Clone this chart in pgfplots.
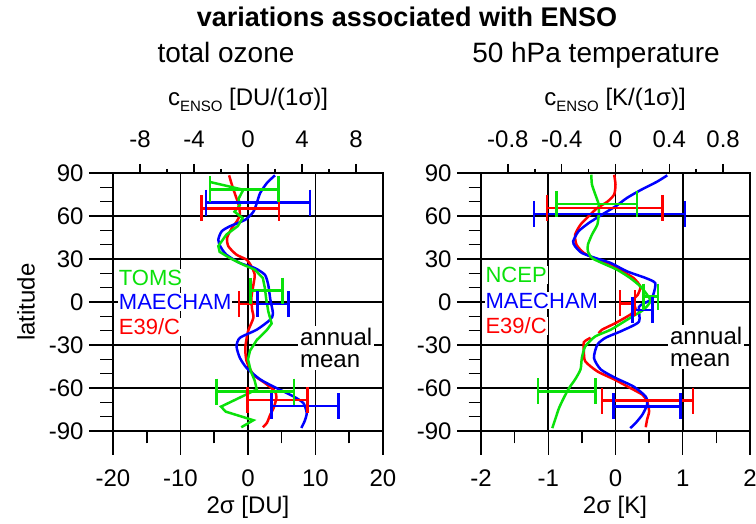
\documentclass[border=0pt]{standalone}
\usepackage{pgfplots}
\pgfplotsset{compat=1.18}
\usepackage{fontspec}
\setmainfont{Liberation Sans}
\definecolor{cg}{RGB}{10,225,10}
\definecolor{cb}{RGB}{0,0,255}
\definecolor{cr}{RGB}{255,0,0}
\newcommand{\fs}[1]{\fontsize{#1}{#1}\selectfont}
\pgfplotsset{
  mainax/.style={
    scale only axis, anchor=south west, height=258pt,
    ymin=-90, ymax=90,
    ytick={-90,-60,-30,0,30,60,90},
    yticklabels={-90,-60,-30,0,30,60,90},
    minor y tick num=2, minor x tick num=1,
    xtick pos=left, ytick pos=left,
    tick align=outside, major tick length=24pt, minor tick length=12.5pt,
    every tick/.style={black, line width=1.5pt},
    every minor tick/.style={black, line width=1.5pt},
    axis line style={line width=1.5pt},
    grid=major, grid style={black, line width=1.6pt}, major grid style={black, line width=1.6pt},
    tick label style={font=\fs{24}},
    xticklabel shift=11pt, yticklabel shift=2pt,
    clip=false,
  },
  topax/.style={
    scale only axis, anchor=south west, height=258pt,
    axis x line*=top, axis y line=none, x axis line style={-},
    ymin=0, ymax=1, minor x tick num=1,
    tick align=outside, major tick length=9pt, minor tick length=4pt,
    every tick/.style={black, line width=1.5pt},
    every minor tick/.style={black, line width=1.5pt},
    axis line style={line width=1.5pt},
    tick label style={font=\fs{24}},
    xticklabel shift=13pt,
  },
  cur/.style={line width=2.5pt, mark=none, smooth, tension=0.4},
  eb/.style={line width=2.5pt, mark=|, mark size=13pt, mark options={solid}},
}
\begin{document}
\begin{tikzpicture}
\useasboundingbox (0pt,0pt) rectangle (756pt,524pt);
% ---------------- left panel ----------------
\begin{axis}[mainax, at={(113pt,93pt)}, width=270pt,
  xmin=-20, xmax=20, xtick={-20,-10,0,10,20}, xticklabels={-20,-10,0,10,20}]
\addplot[cr, cur] coordinates {(-2.8,88.4) (-2.4,82) (-1.9,75) (-1.4,68) (-1.2,61) (-1.7,56) (-2.4,51.6) (-3.1,44.7) (-2.9,38.8) (-1.7,33) (-0.2,29.5) (0.5,24.9) (1.0,19) (0.8,12) (0.5,3) (0.6,-5) (0.8,-11) (0,-20.5) (-0.4,-32) (-0.2,-41.4) (0.8,-50.7) (2.5,-56.5) (4.0,-62.3) (4.2,-67) (3.8,-74) (3.3,-78.6) (2.8,-84.4) (2.2,-87.4)};
\addplot[cb, cur] coordinates {(4.0,88.4) (2.8,83) (1.8,76) (1.3,69) (0.8,63) (-0.4,57.4) (-2.7,52.8) (-3.9,49.3) (-4.4,43.5) (-4.1,38.8) (-3.2,33) (-1.2,27.2) (1.0,23.7) (2.5,19) (3.0,12) (3.3,2) (3.7,-8) (3.3,-12.3) (1.3,-19.3) (-1.2,-25) (-1.7,-31) (-1.2,-39) (-0.2,-46) (1.8,-54) (4.2,-60) (6.7,-65.8) (8.2,-70.5) (8.7,-77.4) (8.4,-83) (7.9,-87.9)};
\addplot[cg, line width=2.5pt, mark=none] coordinates {(-5.6,83.7) (-0.7,78.3) (-1.4,72) (-1.2,67.5) (-2.0,63) (-0.8,58.6) (-1.5,53) (-3.2,47) (-4.4,39) (-4.2,35) (-2.7,30.7) (-0.7,26) (1.0,22.6) (2.2,16.7) (2.5,9.8) (2.7,2) (3.0,-6.5) (3.5,-15) (2.8,-19.5) (1.3,-26.5) (0.3,-34) (0,-40) (0.4,-48) (1.0,-55) (1.3,-61) (-4.0,-73) (-3.3,-76.5) (0.8,-82.5) (-1.0,-87.4)};
% error bars: left end, right end
\addplot[cr, eb] coordinates {(-6.9,65.3) (4.6,65.3)};
\addplot[cr, eb] coordinates {(-1.3,-1.4) (1.4,-1.4)};
\addplot[cr, eb] coordinates {(-0.1,-68.4) (8.8,-68.4)};
\addplot[cb, eb] coordinates {(-6.2,69.3) (9.2,69.3)};
\addplot[cb, eb] coordinates {(1.4,-1.4) (6.0,-1.4)};
\addplot[cb, eb] coordinates {(3.5,-72.6) (13.4,-72.6)};
\addplot[cg, eb] coordinates {(-5.6,78.6) (4.5,78.6)};
\addplot[cg, eb] coordinates {(0.4,8.0) (5.1,8.0)};
\addplot[cg, eb] coordinates {(-4.7,-62.6) (6.8,-62.6)};
\node[anchor=west, fill=white, inner sep=1pt, text=cg, font=\fs{22}] at (axis cs:-19.3,16.7) {TOMS};
\node[anchor=west, fill=white, inner sep=1pt, text=cb, font=\fs{22}] at (axis cs:-19.3,0) {MAECHAM};
\node[anchor=west, fill=white, inner sep=1pt, text=cr, font=\fs{22}] at (axis cs:-19.3,-17.4) {E39/C};
\node[anchor=west, fill=white, inner sep=2pt, align=left, font=\fs{24}] at (axis cs:7.4,-32) {annual\\[-2pt]mean};
\end{axis}
\begin{axis}[topax, at={(113pt,93pt)}, width=270pt,
  xmin=-10, xmax=10, xtick={-8,-4,0,4,8}, xticklabels={-8,-4,0,4,8}]
\end{axis}
% ---------------- right panel ----------------
\begin{axis}[mainax, at={(481pt,93pt)}, width=269pt,
  xmin=-2, xmax=2, xtick={-2,-1,0,1,2}, xticklabels={-2,-1,0,1,2}]
\addplot[cr, cur] coordinates {(-0.02,88.8) (0,82) (-0.02,75) (-0.12,70) (-0.27,65.6) (-0.40,59.8) (-0.52,54) (-0.60,47) (-0.58,40) (-0.47,34.2) (-0.27,29.5) (-0.05,26) (0.10,21.4) (0.27,16.7) (0.37,10.7) (0.33,5) (0.25,1) (0.30,-5) (0.22,-8.8) (0,-14.7) (-0.20,-19.3) (-0.25,-21.9)};
\addplot[cr, cur] coordinates {(-0.37,-25) (-0.47,-28) (-0.47,-34.4) (-0.45,-41.4) (-0.27,-48.4) (-0.02,-54) (0.22,-60) (0.40,-64.7) (0.47,-69.3) (0.50,-76.3) (0.47,-82) (0.45,-87.4)};
\addplot[cb, cur] coordinates {(0.77,88.4) (0.62,84) (0.37,78) (0.17,72.6) (0,66.7) (-0.20,61) (-0.40,55) (-0.55,49.3) (-0.63,42.3) (-0.60,38.8) (-0.50,34.2) (-0.30,30.7) (-0.07,27.2) (0.17,21.4) (0.45,16.7) (0.59,13.3) (0.57,6.3) (0.52,1.4) (0.35,-3.3) (0.35,-13.7) (0.1,-20) (-0.15,-25) (-0.27,-29.8) (-0.32,-39) (-0.22,-47) (0,-53) (0.27,-59) (0.45,-66) (0.47,-71.6) (0.40,-78.6) (0.30,-84.4) (0.22,-88)};
\addplot[cg, cur] coordinates {(-0.36,88.8) (-0.35,82) (-0.30,75) (-0.25,68) (-0.25,61) (-0.27,54) (-0.35,47) (-0.41,40) (-0.41,35.3) (-0.35,30.7) (-0.20,27.2) (0.02,22.6) (0.22,16.7) (0.37,10.9) (0.47,5.1) (0.52,0.5) (0.42,-5.3) (0.22,-11) (-0.07,-19.3) (-0.30,-24) (-0.45,-31) (-0.50,-39) (-0.52,-47) (-0.60,-54) (-0.69,-60) (-0.77,-67) (-0.84,-74) (-0.89,-81) (-0.94,-88)};
\addplot[cr, eb] coordinates {(-1.02,65.6) (0.70,65.6)};
\addplot[cr, eb] coordinates {(0.07,-1) (0.29,-1)};
\addplot[cr, eb] coordinates {(-0.20,-68.8) (1.15,-68.8)};
\addplot[cb, eb] coordinates {(-1.21,61.4) (1.03,61.4)};
\addplot[cb, eb] coordinates {(0.25,-5.6) (0.55,-5.6)};
\addplot[cb, eb] coordinates {(-0.03,-72.8) (0.97,-72.8)};
\addplot[cg, eb] coordinates {(-0.88,68.4) (0.32,68.4)};
\addplot[cg, eb] coordinates {(0.42,3.7) (0.63,3.7)};
\addplot[cg, eb] coordinates {(-1.15,-62.3) (-0.30,-62.3)};
\node[anchor=west, fill=white, inner sep=1pt, text=cg, font=\fs{22}] at (axis cs:-1.95,18.8) {NCEP};
\node[anchor=west, fill=white, inner sep=1pt, text=cb, font=\fs{22}] at (axis cs:-1.95,1.0) {MAECHAM};
\node[anchor=west, fill=white, inner sep=1pt, text=cr, font=\fs{22}] at (axis cs:-1.95,-16.7) {E39/C};
\node[anchor=west, fill=white, inner sep=2pt, align=left, font=\fs{24}] at (axis cs:0.78,-31.4) {annual\\[-2pt]mean};
\end{axis}
\begin{axis}[topax, at={(481pt,93pt)}, width=269pt,
  xmin=-1, xmax=1, xtick={-0.8,-0.4,0,0.4,0.8}, xticklabels={-0.8,-0.4,0,0.4,0.8}]
\end{axis}
% ---------------- titles and labels ----------------
\node[anchor=base, font=\bfseries\fs{27}] at (407pt,497pt) {variations associated with ENSO};
\node[anchor=base, font=\fs{28}] at (226pt,461pt) {total ozone};
\node[anchor=base, font=\fs{28}] at (596pt,461pt) {50 hPa temperature};
\node[anchor=base, font=\fs{24}] at (248pt,418pt) {c\raisebox{-0.25em}{\fs{15}ENSO} [DU/(1σ)]};
\node[anchor=base, font=\fs{24}] at (615pt,418pt) {c\raisebox{-0.25em}{\fs{15}ENSO} [K/(1σ)]};
\node[anchor=base, font=\fs{24}] at (248pt,10pt) {2σ [DU]};
\node[anchor=base, font=\fs{24}] at (615pt,10pt) {2σ [K]};
\node[rotate=90, font=\fs{24}] at (26pt,222pt) {latitude};
\end{tikzpicture}
\end{document}
